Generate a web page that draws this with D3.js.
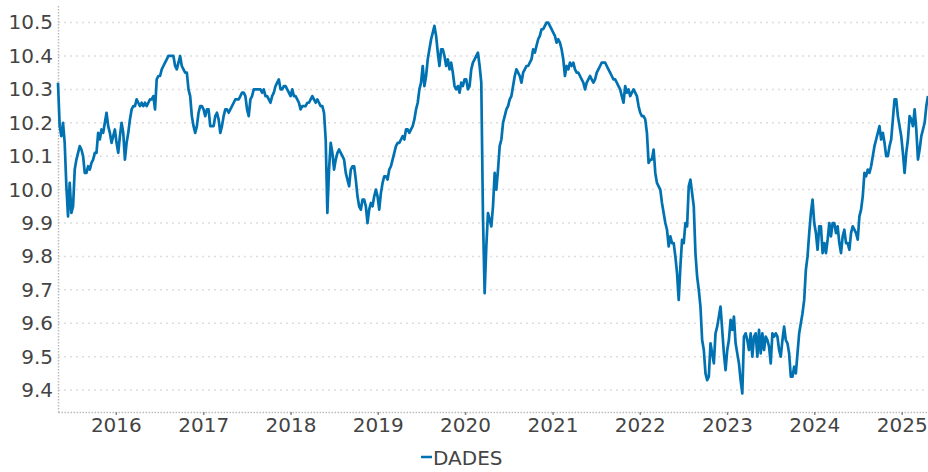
<!DOCTYPE html>
<html>
<head>
<meta charset="utf-8">
<script src="https://cdn.jsdelivr.net/npm/d3@7"></script>
<style>
  body { margin: 0; background: #fff; }
  svg { display: block; font-family: 'DejaVu Sans', sans-serif; }
  .tick text { fill: #444; font-size: 20px; font-family: 'DejaVu Sans', sans-serif; }
  .grid line { stroke: #ddd; stroke-width: 1.5; stroke-dasharray: 2 4; }
  .axis .domain { stroke: #bbb; stroke-width: 1.5; stroke-dasharray: 1.5 1.5; }
  .axis .tick line { stroke: #888; stroke-width: 1.5; }
  .legend text { fill: #444; font-size: 20px; font-family: 'DejaVu Sans', sans-serif; }
</style>
</head>
<body>
<svg id="chart" width="928" height="472"></svg>
<script>
const seriesName = 'DADES';
const firstWeek = '2015-05-04';

// valors setmanals, llegits del gràfic
const weeklyValues = [
  10.32, 10.19, 10.16, 10.20, 10.14, 10.01, 9.92, 10.02, 9.93, 9.95,
  10.06, 10.09, 10.11, 10.13, 10.12, 10.10, 10.05, 10.05, 10.07, 10.06,
  10.08, 10.09, 10.11, 10.11, 10.17, 10.15, 10.18, 10.17, 10.20, 10.23,
  10.19, 10.17, 10.14, 10.16, 10.18, 10.14, 10.11, 10.16, 10.20, 10.17,
  10.09, 10.14, 10.17, 10.21, 10.24, 10.25, 10.25, 10.27, 10.26, 10.25,
  10.26, 10.25, 10.26, 10.25, 10.26, 10.27, 10.27, 10.28, 10.24, 10.33,
  10.34, 10.34, 10.36, 10.37, 10.38, 10.39, 10.40, 10.40, 10.40, 10.40,
  10.37, 10.36, 10.38, 10.40, 10.37, 10.36, 10.35, 10.35, 10.30, 10.28,
  10.22, 10.19, 10.17, 10.19, 10.23, 10.25, 10.25, 10.24, 10.22,
  10.24, 10.24, 10.19, 10.19, 10.19, 10.22, 10.23, 10.21, 10.17, 10.19,
  10.22, 10.24, 10.24, 10.23, 10.24, 10.25, 10.26, 10.27, 10.27, 10.27,
  10.28, 10.29, 10.29, 10.28, 10.24, 10.22, 10.27, 10.28, 10.30, 10.30,
  10.30, 10.30, 10.30, 10.29, 10.30, 10.28, 10.28, 10.27, 10.26, 10.28,
  10.29, 10.31, 10.32, 10.33, 10.30, 10.30, 10.31, 10.31, 10.30, 10.29,
  10.28, 10.30, 10.28, 10.28, 10.27, 10.26, 10.24, 10.25, 10.25, 10.25,
  10.26, 10.26, 10.27, 10.28, 10.27, 10.26, 10.27, 10.26, 10.25, 10.25,
  10.23, 10.15, 9.93, 10.06, 10.14, 10.11, 10.06, 10.09, 10.11, 10.12,
  10.11, 10.10, 10.09, 10.05, 10.03, 10.01,
  10.06, 10.07, 10.07, 10.03, 9.98, 9.95, 9.94, 9.97, 9.97, 9.95,
  9.90, 9.94, 9.96, 9.95, 9.98, 10.00, 9.98, 9.94, 9.99, 10.02,
  10.04, 10.04, 10.03, 10.06, 10.07, 10.09, 10.11, 10.13, 10.14, 10.14,
  10.15, 10.16, 10.15, 10.18, 10.18, 10.17, 10.18, 10.19, 10.21, 10.24,
  10.26, 10.30, 10.32, 10.37, 10.31, 10.34, 10.39, 10.42, 10.45, 10.47,
  10.49, 10.46, 10.41, 10.37, 10.42, 10.42, 10.40, 10.37, 10.39, 10.36,
  10.38, 10.35, 10.31, 10.30, 10.31, 10.29, 10.32, 10.31, 10.33, 10.33,
  10.30, 10.31, 10.36, 10.38, 10.39, 10.40, 10.41, 10.37, 10.32, 9.92,
  9.69, 9.83, 9.93, 9.91, 9.89, 9.95, 10.05,
  10.00, 10.06, 10.13, 10.15, 10.20, 10.22, 10.24, 10.25, 10.27, 10.28,
  10.31, 10.34, 10.36, 10.35, 10.34, 10.32, 10.35, 10.36, 10.37, 10.37,
  10.38, 10.39, 10.42, 10.41, 10.43, 10.45, 10.46, 10.48, 10.48, 10.49,
  10.50, 10.50, 10.49, 10.48, 10.47, 10.46, 10.44, 10.45, 10.44, 10.42,
  10.39, 10.34, 10.37, 10.36, 10.38, 10.37, 10.38, 10.36, 10.35, 10.35,
  10.34, 10.33, 10.32, 10.30, 10.32, 10.33, 10.34, 10.33, 10.32, 10.33,
  10.35, 10.36, 10.37, 10.38, 10.38, 10.38, 10.37, 10.36, 10.35, 10.34,
  10.33, 10.33, 10.32, 10.31, 10.30, 10.28, 10.26, 10.31, 10.29, 10.30,
  10.28, 10.29, 10.30, 10.29, 10.28, 10.25, 10.23,
  10.22, 10.22, 10.21, 10.17, 10.08, 10.09, 10.09, 10.12, 10.05, 10.02,
  10.01, 10.00, 9.96, 9.93, 9.90, 9.88, 9.83, 9.86, 9.84, 9.84,
  9.80, 9.75, 9.67, 9.77, 9.85, 9.84, 9.90, 9.89, 10.01, 10.03,
  9.99, 9.95, 9.81, 9.74, 9.70, 9.65, 9.55, 9.52, 9.45, 9.43,
  9.44, 9.54, 9.51, 9.48, 9.57, 9.59, 9.62, 9.65, 9.58, 9.51,
  9.46, 9.52, 9.55, 9.61, 9.58, 9.62, 9.54, 9.51, 9.48, 9.43,
  9.39, 9.56, 9.57, 9.55, 9.52, 9.57, 9.50, 9.56, 9.57, 9.50,
  9.58, 9.51, 9.57, 9.52, 9.56, 9.55, 9.53, 9.48, 9.57, 9.56,
  9.57, 9.56, 9.52, 9.50, 9.55, 9.59,
  9.55, 9.54, 9.51, 9.44, 9.44, 9.47, 9.45, 9.51, 9.57, 9.60,
  9.63, 9.67, 9.76, 9.80, 9.87, 9.93, 9.97, 9.90, 9.87, 9.82,
  9.89, 9.89, 9.81, 9.84, 9.81, 9.85, 9.90, 9.86, 9.90, 9.90,
  9.87, 9.89, 9.84, 9.81, 9.86, 9.88, 9.84, 9.84, 9.82, 9.87,
  9.89, 9.88, 9.87, 9.85, 9.92, 9.94, 9.98, 10.05, 10.04, 10.06,
  10.05, 10.07, 10.10, 10.13, 10.15, 10.17, 10.19, 10.15, 10.17, 10.14,
  10.10, 10.10, 10.13, 10.15, 10.21, 10.27, 10.27, 10.22, 10.19, 10.16,
  10.11, 10.05, 10.11, 10.15, 10.22, 10.21, 10.19, 10.24, 10.18, 10.09,
  10.12, 10.16, 10.18, 10.20, 10.25, 10.28,
];

const yTicks = [9.4, 9.5, 9.6, 9.7, 9.8, 9.9, 10.0, 10.1, 10.2, 10.3, 10.4, 10.5];
const xTickYears = [2016, 2017, 2018, 2019, 2020, 2021, 2022, 2023, 2024, 2025];

const start = d3.timeParse('%Y-%m-%d')(firstWeek);
const data = weeklyValues.map((v, i) => ({ date: d3.timeWeek.offset(start, i), value: v }));

const svg = d3.select('#chart');
const plot = { left: 58, right: 928, top: 4, bottom: 412 };

// escales
const xScale = d3.scaleTime().domain(d3.extent(data, d => d.date)).range([plot.left, plot.right]);
const [vMin, vMax] = d3.extent(data, d => d.value);
const pad = (vMax - vMin) * 0.05;
const yScale = d3.scaleLinear().domain([vMin - pad, vMax + pad]).range([plot.bottom, plot.top]);

// graella horitzontal
svg.append('g')
  .attr('class', 'grid')
  .selectAll('line')
  .data(yTicks)
  .join('line')
  .attr('x1', plot.left)
  .attr('x2', plot.right)
  .attr('y1', d => yScale(d))
  .attr('y2', d => yScale(d));

// eixos
svg.append('g')
  .attr('class', 'axis')
  .attr('transform', `translate(${plot.left},0)`)
  .call(d3.axisLeft(yScale).tickValues(yTicks).tickFormat(d3.format('.1f')).tickSize(0).tickPadding(5).tickSizeOuter(0));

svg.append('g')
  .attr('class', 'axis')
  .attr('transform', `translate(0,${plot.bottom})`)
  .call(d3.axisBottom(xScale)
    .tickValues(xTickYears.map(y => new Date(y, 0, 1)))
    .tickFormat(d3.timeFormat('%Y'))
    .tickSize(3).tickPadding(3).tickSizeOuter(0));

// línia
svg.append('path')
  .datum(data)
  .attr('fill', 'none')
  .attr('stroke', '#0072b2')
  .attr('stroke-width', 2.7)
  .attr('stroke-linejoin', 'round')
  .attr('d', d3.line().x(d => xScale(d.date)).y(d => yScale(d.value)));

// llegenda
const legend = svg.append('g').attr('class', 'legend');
legend.append('line')
  .attr('x1', 421).attr('x2', 432)
  .attr('y1', 457).attr('y2', 457)
  .attr('stroke', '#0072b2')
  .attr('stroke-width', 2.5);
legend.append('text')
  .attr('x', 433)
  .attr('y', 465)
  .text(seriesName);
</script>
</body>
</html>
